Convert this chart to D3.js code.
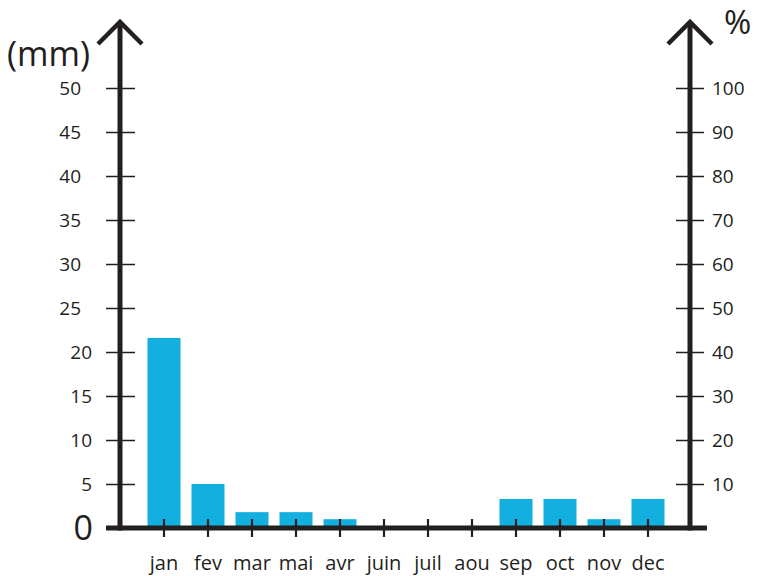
<!DOCTYPE html>
<html><head><meta charset="utf-8">
<script src="https://cdn.jsdelivr.net/npm/d3@7"></script>
<style>body{margin:0;background:#fff}svg{display:block}text{font-family:"Open Sans",sans-serif;fill:#231f20}</style>
</head><body><svg id="c" width="757" height="576"></svg>
<script>
const months = ["jan","fev","mar","mai","avr","juin","juil","aou","sep","oct","nov","dec"];
const rain = [21.6,5.0,1.8,1.8,1.0,0,0,0,3.3,3.3,1.0,3.3];
const leftTicks = [5,10,15,20,25,30,35,40,45,50];
const rightTicks = [10,20,30,40,50,60,70,80,90,100];

const ink = "#231f20", blue = "#13afdf";
const svg = d3.select("#c");
const x = d3.scaleBand().domain(months).range([142,670]).paddingInner(0.25).paddingOuter(0.125);
const y = d3.scaleLinear().domain([0,50]).range([528,88]);
const yr = d3.scaleLinear().domain([0,100]).range([528,88]);
const xL = 120, xR = 690;

// bars
svg.selectAll("rect.bar").data(rain).join("rect")
  .attr("x",(d,i)=>x(months[i])).attr("width",x.bandwidth())
  .attr("y",d=>y(d)).attr("height",d=>y(0)-y(d)).attr("fill",blue);

// left axis ticks
const gL = svg.append("g").attr("transform",`translate(${xL},0)`)
  .call(d3.axisLeft(y).tickValues(leftTicks).tickSize(0).tickFormat(d3.format("d")));
gL.select(".domain").remove();
gL.selectAll(".tick line").attr("x1",-14).attr("x2",15).attr("stroke",ink).attr("stroke-width",1.5);
gL.selectAll(".tick text").attr("x",d=>d>=25?-39:-28).attr("dy","0.36em")
  .style("font-size","19px").attr("fill",ink).style("font-family","'Open Sans',sans-serif");

// right axis ticks
const gR = svg.append("g").attr("transform",`translate(${xR},0)`)
  .call(d3.axisRight(yr).tickValues(rightTicks).tickSize(0).tickFormat(d3.format("d")));
gR.select(".domain").remove();
gR.selectAll(".tick line").attr("x1",-14).attr("x2",14).attr("stroke",ink).attr("stroke-width",1.5);
gR.selectAll(".tick text").attr("x",22).attr("dy","0.36em")
  .style("font-size","19px").attr("fill",ink).style("font-family","'Open Sans',sans-serif");

// bottom axis
const gB = svg.append("g").attr("transform",`translate(0,${y(0)})`)
  .call(d3.axisBottom(x).tickSize(0));
gB.select(".domain").remove();
gB.selectAll(".tick line").attr("y1",-9).attr("y2",9).attr("stroke",ink).attr("stroke-width",2.2);
gB.selectAll(".tick text").attr("y",35).attr("dy","0.35em")
  .style("font-size","20px").attr("fill",ink).style("font-family","'Open Sans',sans-serif");

// axis lines
svg.append("line").attr("x1",106).attr("x2",707).attr("y1",y(0)).attr("y2",y(0)).attr("stroke",ink).attr("stroke-width",5);
[xL,xR].forEach(ax=>{
  svg.append("line").attr("x1",ax).attr("x2",ax).attr("y1",y(0)+2.5).attr("y2",22).attr("stroke",ink).attr("stroke-width",5);
  svg.append("polyline").attr("points",`${ax-22},44 ${ax},22 ${ax+22},44`).attr("fill","none").attr("stroke",ink).attr("stroke-width",4.5);
});

// labels
svg.append("text").attr("x",93).attr("y",y(0)).attr("dy","0.36em").attr("text-anchor","end").style("font-size","34px").text("0");
svg.append("text").attr("x",7).attr("y",66).style("font-size","34px").text("(mm)");
svg.append("text").attr("x",724).attr("y",34).style("font-size","33px").text("%");
</script></body></html>
